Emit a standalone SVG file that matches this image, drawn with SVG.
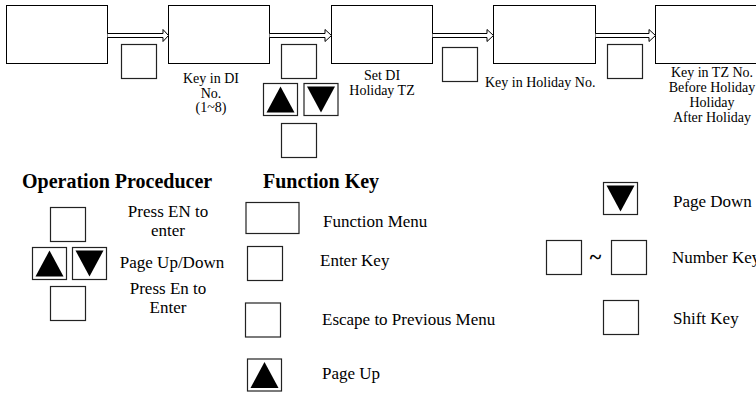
<svg xmlns="http://www.w3.org/2000/svg" width="756" height="397" viewBox="0 0 756 397">
  <defs>
    <style>
      .box { fill: #fff; stroke: #000; stroke-width: 1; }
      .key { fill: #fff; stroke: #222; stroke-width: 1.2; }
      .tri { fill: #000; stroke: none; }
      .arrow { fill: #fff; stroke: #000; stroke-width: 1; stroke-linejoin: miter; }
      .lbl { font-family: "Liberation Serif", "Times New Roman", serif; fill: #000; }
      .top { font-size: 14px; }
      .leg { font-size: 17px; }
      .head { font-size: 20px; font-weight: bold; }
      .mid { text-anchor: middle; }
    </style>
    <!-- reusable key glyphs: 35x34 squares, with up/down triangles -->
    <symbol id="sq" viewBox="0 0 35 34" width="35" height="34" overflow="visible">
      <rect class="key" x="0" y="0" width="35" height="34"/>
    </symbol>
    <symbol id="up" viewBox="0 0 34 32" width="34" height="32" overflow="visible">
      <rect class="key" x="0" y="0" width="34" height="32"/>
      <polygon class="tri" points="17,3 3,29 31,29"/>
    </symbol>
    <symbol id="dn" viewBox="0 0 34 32" width="34" height="32" overflow="visible">
      <rect class="key" x="0" y="0" width="34" height="32"/>
      <polygon class="tri" points="3,3 31,3 17,29"/>
    </symbol>
  </defs>

  <rect width="756" height="397" fill="#fff"/>

  <!-- menu flow -->
  <g id="step1"><rect class="box" x="6.5" y="5.5" width="101" height="58"/></g>
  <g id="step2">
    <rect class="box" x="168.5" y="5.5" width="101" height="58"/>
    <text class="lbl top mid" x="211" y="83">Key in DI</text>
    <text class="lbl top mid" x="211" y="97.5">No.</text>
    <text class="lbl top mid" x="211" y="112">(1~8)</text>
  </g>
  <g id="step3">
    <rect class="box" x="331.5" y="5.5" width="101" height="58"/>
    <text class="lbl top mid" x="382" y="80">Set DI</text>
    <text class="lbl top mid" x="382" y="95">Holiday TZ</text>
  </g>
  <g id="step4">
    <rect class="box" x="493.5" y="5.5" width="102" height="58"/>
    <text class="lbl top" x="485" y="87">Key in Holiday No.</text>
  </g>
  <g id="step5">
    <rect class="box" x="655.5" y="5.5" width="110" height="58"/>
    <text class="lbl top mid" x="712" y="77">Key in TZ No.</text>
    <text class="lbl top mid" x="712" y="92">Before Holiday</text>
    <text class="lbl top mid" x="712" y="107">Holiday</text>
    <text class="lbl top mid" x="712" y="122">After Holiday</text>
  </g>

  <!-- connectors: hollow block arrows between steps -->
  <g id="connectors">
    <path class="arrow" d="M107.5,33.5 H163 V29.5 L168.5,35.5 L163,41.5 V37.5 H107.5"/>
    <path class="arrow" d="M269.5,33.5 H325 V29.5 L331.5,35.5 L325,41.5 V37.5 H269.5"/>
    <path class="arrow" d="M432.5,33.5 H487 V29.5 L493.5,35.5 L487,41.5 V37.5 H432.5"/>
    <path class="arrow" d="M595.5,33.5 H649 V29.5 L655.5,35.5 L649,41.5 V37.5 H595.5"/>
  </g>

  <!-- keys pressed between steps -->
  <g id="keys-flow">
    <use href="#sq" x="121.5" y="44.5"/>
    <use href="#sq" x="281.5" y="44.5"/>
    <use href="#up" x="263.5" y="83.5"/>
    <use href="#dn" x="304" y="83.5"/>
    <use href="#sq" x="281.5" y="123.5"/>
    <use href="#sq" x="442.5" y="47.5"/>
    <use href="#sq" x="607.5" y="44.5"/>
  </g>

  <!-- operation procedure legend -->
  <g id="operation">
    <text class="lbl head" x="22" y="188">Operation Proceducer</text>
    <use href="#sq" x="50.5" y="207.5"/>
    <use href="#up" x="32.5" y="247.5"/>
    <use href="#dn" x="72.5" y="247.5"/>
    <use href="#sq" x="50.5" y="286.5"/>
    <text class="lbl leg mid" x="168" y="217">Press EN to</text>
    <text class="lbl leg mid" x="168" y="236">enter</text>
    <text class="lbl leg mid" x="172" y="268">Page Up/Down</text>
    <text class="lbl leg mid" x="168" y="294">Press En to</text>
    <text class="lbl leg mid" x="168" y="313">Enter</text>
  </g>

  <!-- function key legend -->
  <g id="function-keys">
    <text class="lbl head" x="263" y="188">Function Key</text>
    <rect class="key" x="246" y="202.5" width="53" height="31"/>
    <text class="lbl leg" x="323" y="227">Function Menu</text>
    <use href="#sq" x="247.5" y="246.5"/>
    <text class="lbl leg" x="320" y="266">Enter Key</text>
    <use href="#sq" x="245.5" y="303"/>
    <text class="lbl leg" x="322" y="325">Escape to Previous Menu</text>
    <use href="#up" x="247.5" y="359"/>
    <text class="lbl leg" x="322" y="379">Page Up</text>
  </g>

  <g id="more-keys">
    <use href="#dn" x="603.5" y="182.5"/>
    <text class="lbl leg" x="673" y="207">Page Down</text>
    <use href="#sq" x="546.5" y="240.5"/>
    <text x="595.5" y="264" class="lbl mid" style="font-size:22px;font-weight:bold">~</text>
    <use href="#sq" x="611.5" y="240.5"/>
    <text class="lbl leg" x="672" y="263">Number Key</text>
    <use href="#sq" x="603.5" y="300.5"/>
    <text class="lbl leg" x="673" y="324">Shift Key</text>
  </g>
</svg>
